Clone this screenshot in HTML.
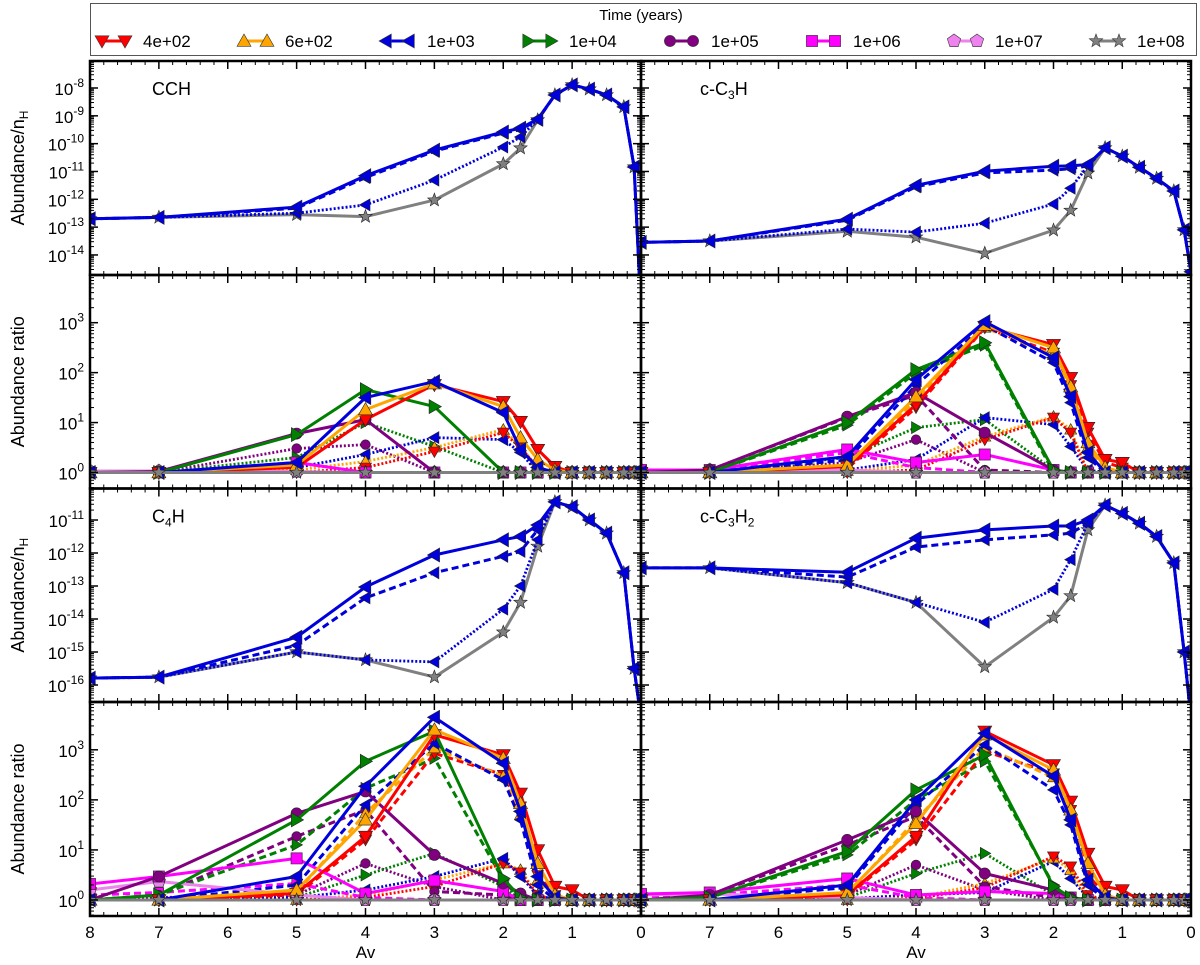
<!DOCTYPE html>
<html><head><meta charset="utf-8">
<style>
html,body{margin:0;padding:0;background:#fff;}
svg{display:block;font-family:"Liberation Sans","DejaVu Sans",sans-serif;}
</style></head>
<body>
<svg id="fig" width="1200" height="965" viewBox="0 0 1200 965" xmlns="http://www.w3.org/2000/svg"></svg>
<script>
// ---------- data ----------
const AV = [8,7,5,4,3,2,1.75,1.5,1.25,1,0.75,0.5,0.25,0.1,0];
const TIMES = ['4e+02','6e+02','1e+03','1e+04','1e+05','1e+06','1e+07','1e+08'];
const XTICKS = [8,7,6,5,4,3,2,1,0];

// CCH abundance (log10)
const A_blue_solid = [-12.7,-12.65,-12.28,-11.15,-10.23,-9.58,-9.44,-9.12,-8.25,-7.89,-8.04,-8.25,-8.68,-10.84,-16];
const A_blue_dash  = [-12.7,-12.65,-12.32,-11.22,-10.27,-9.62,-9.5,-9.15,-8.25,-7.89,-8.04,-8.25,-8.68,-10.84,-16];
const A_blue_dot   = [-12.7,-12.65,-12.5,-12.2,-11.31,-10.12,-9.76,-9.12,-8.25,-7.89,-8.04,-8.25,-8.68,-10.84,-16];
const A_grey       = [-12.7,-12.65,-12.55,-12.62,-12.03,-10.73,-10.16,-9.15,-8.25,-7.89,-8.04,-8.25,-8.68,-10.84,-16];
// c-C3H abundance
const B_blue_solid = [-13.55,-13.5,-12.71,-11.5,-10.99,-10.81,-10.8,-10.75,-10.15,-10.45,-10.85,-11.25,-11.7,-13.1,-14.6];
const B_blue_dash  = [-13.55,-13.5,-12.75,-11.55,-11.05,-10.95,-10.9,-10.8,-10.15,-10.45,-10.85,-11.25,-11.7,-13.1,-14.6];
const B_blue_dot   = [-13.55,-13.5,-13.07,-13.18,-12.86,-12.17,-11.6,-10.8,-10.15,-10.45,-10.85,-11.25,-11.7,-13.1,-14.6];
const B_grey       = [-13.55,-13.5,-13.15,-13.36,-13.94,-13.11,-12.4,-11.06,-10.15,-10.45,-10.85,-11.25,-11.7,-13.1,-14.6];
// C4H abundance
const C_blue_solid = [-15.79,-15.76,-14.55,-13.03,-12.06,-11.6,-11.5,-11.15,-10.45,-10.6,-11.0,-11.4,-12.6,-15.5,-17];
const C_blue_dash  = [-15.79,-15.76,-14.8,-13.36,-12.6,-12.1,-11.95,-11.3,-10.45,-10.6,-11.0,-11.4,-12.6,-15.5,-17];
const C_blue_dot   = [-15.79,-15.76,-15.0,-15.24,-15.3,-13.7,-13.0,-11.6,-10.45,-10.6,-11.0,-11.4,-12.6,-15.5,-17];
const C_grey       = [-15.79,-15.76,-15.0,-15.24,-15.76,-14.4,-13.5,-11.8,-10.45,-10.6,-11.0,-11.4,-12.6,-15.5,-17];
// c-C3H2 abundance
const D_blue_solid = [-12.45,-12.45,-12.58,-11.55,-11.3,-11.18,-11.18,-11.0,-10.55,-10.8,-11.1,-11.5,-12.3,-15.0,-17];
const D_blue_dash  = [-12.45,-12.45,-12.73,-11.82,-11.6,-11.45,-11.4,-11.1,-10.55,-10.8,-11.1,-11.5,-12.3,-15.0,-17];
const D_blue_dot   = [-12.45,-12.45,-12.9,-13.5,-14.1,-13.1,-12.2,-11.1,-10.55,-10.8,-11.1,-11.5,-12.3,-15.0,-17];
const D_grey       = [-12.45,-12.45,-12.9,-13.5,-15.45,-13.95,-13.3,-11.3,-10.55,-10.8,-11.1,-11.5,-12.3,-15.0,-17];

// ratios (log10)
const R_grey = [0,0,0,0,0,0,0,0,0,0,0,0,0,0,0];
// CCH ratio
const E_red     = [0,0,0.1,1.06,1.76,1.42,1.02,0.46,0.12,0,0,0,0,0,0];
const E_orange  = [0,0,0.15,1.26,1.78,1.32,0.7,0.26,0.05,0,0,0,0,0,0];
const E_blue    = [0,0,0.2,1.5,1.82,1.2,0.46,0.1,0,0,0,0,0,0,0];
const E_green   = [0,0,0.76,1.66,1.32,0,0,0,0,0,0,0,0,0,0];
const E_purple  = [0,0.02,0.78,1.06,0,0,0,0,0,0,0,0,0,0,0];
const E_magenta = [0,0,0.2,0,0,0,0,0,0,0,0,0,0,0,0];
const E_pink    = [0.03,0.03,0.02,0,0,0,0,0,0,0,0,0,0,0,0];
const E_purple_dot = [0,0,0.48,0.56,0,0,0,0,0,0,0,0,0,0,0];
const E_green_dot  = [0,0,0.3,1.0,0.52,0,0,0,0,0,0,0,0,0,0];
const E_blue_dot   = [0,0,0.1,0.36,0.7,0.66,0.4,0,0,0,0,0,0,0,0];
const E_orange_dot = [0,0,0.05,0.22,0.5,0.86,0.52,0.1,0,0,0,0,0,0,0];
const E_red_dot    = [0,0,0,0.1,0.42,0.8,0.5,0.1,0,0,0,0,0,0,0];
// c-C3H ratio
const F_red     = [0,0,0.12,1.36,2.92,2.56,1.9,0.9,0.26,0.2,0,0,0,0,0];
const F_orange  = [0,0,0.15,1.52,2.95,2.5,1.72,0.6,0.1,0,0,0,0,0,0];
const F_blue    = [0,0,0.32,1.86,3.02,2.3,1.52,0.4,0,0,0,0,0,0,0];
const F_green   = [0,0,1.0,2.06,2.6,0.05,0,0,0,0,0,0,0,0,0];
const F_purple  = [0,0.05,1.12,1.6,0.8,0.05,0,0,0,0,0,0,0,0,0];
const F_magenta = [0.05,0.05,0.46,0.2,0.36,0.05,0,0,0,0,0,0,0,0,0];
const F_pink    = [0.05,0.05,0.05,0,0,0,0,0,0,0,0,0,0,0,0];
const F_red_dash     = [0,0,0.08,1.3,2.9,2.4,1.75,0.8,0.2,0.1,0,0,0,0,0];
const F_orange_dash  = [0,0,0.12,1.45,2.9,2.35,1.6,0.5,0.05,0,0,0,0,0,0];
const F_blue_dash    = [0,0,0.25,1.75,2.95,2.2,1.4,0.3,0,0,0,0,0,0,0];
const F_green_dash   = [0,0,0.95,2.0,2.55,0,0,0,0,0,0,0,0,0,0];
const F_purple_dash  = [0,0.05,1.1,1.55,0.05,0,0,0,0,0,0,0,0,0,0];
const F_magenta_dash = [0.03,0.03,0.4,0.1,0,0,0,0,0,0,0,0,0,0,0];
const F_green_dot  = [0,0,0.3,0.9,1.06,0.05,0,0,0,0,0,0,0,0,0];
const F_purple_dot = [0,0,0.2,0.66,0,0,0,0,0,0,0,0,0,0,0];
const F_blue_dot   = [0,0,0.05,0.26,1.1,0.96,0.52,0.05,0,0,0,0,0,0,0];
const F_orange_dot = [0,0,0.03,0.15,0.72,1.12,0.86,0,0,0,0,0,0,0,0];
const F_red_dot    = [0,0,0,0.05,0.66,1.1,0.8,0,0,0,0,0,0,0,0];
// C4H ratio
const G_red     = [0,0,0.13,1.27,3.3,2.9,2.13,1.0,0.27,0.2,0,0,0,0,0];
const G_orange  = [0,0,0.2,1.6,3.4,2.83,1.93,0.73,0.1,0,0,0,0,0,0];
const G_blue    = [0,0,0.47,2.27,3.65,2.73,1.77,0.47,0.05,0,0,0,0,0,0];
const G_green   = [0,0.1,1.6,2.77,3.37,0.43,0.05,0,0,0,0,0,0,0,0];
const G_purple  = [0,0.47,1.73,2.17,0.9,0.33,0.13,0,0,0,0,0,0,0,0];
const G_magenta = [0.32,0.47,0.83,0.13,0.39,0.17,0,0,0,0,0,0,0,0,0];
const G_pink    = [0.2,0.37,0.1,0,0,0,0,0,0,0,0,0,0,0,0];
const G_red_dash     = [0,0,0.1,1.2,2.93,2.5,1.87,0.5,0.1,0,0,0,0,0,0];
const G_orange_dash  = [0,0,0.15,1.73,3.03,2.47,1.7,0.4,0.05,0,0,0,0,0,0];
const G_blue_dash    = [0,0,0.3,1.9,3.13,2.4,1.6,0.3,0,0,0,0,0,0,0];
const G_green_dash   = [0,0.1,1.1,2.23,2.83,0.4,0,0,0,0,0,0,0,0,0];
const G_purple_dash  = [0,0.1,1.27,1.8,0.17,0.1,0,0,0,0,0,0,0,0,0];
const G_magenta_dash = [0.1,0.15,0.33,0.05,0,0,0,0,0,0,0,0,0,0,0];
const G_purple_dot = [0,0.05,0.1,0.73,0.27,0,0,0,0,0,0,0,0,0,0];
const G_green_dot  = [0,0,0.05,0.5,0.93,0.27,0,0,0,0,0,0,0,0,0];
const G_orange_dot = [0,0,0,0.1,0.4,0.73,0.6,0.1,0,0,0,0,0,0,0];
const G_red_dot    = [0,0,0,0.05,0.27,0.73,0.55,0.1,0,0,0,0,0,0,0];
const G_blue_dot   = [0,0,0.05,0.2,0.47,0.83,0.47,0.1,0,0,0,0,0,0,0];
// c-C3H2 ratio
const H_red     = [0,0,0.1,1.27,3.37,2.7,1.97,0.93,0.27,0.2,0,0,0,0,0];
const H_orange  = [0,0,0.15,1.53,3.3,2.6,1.8,0.73,0.1,0,0,0,0,0,0];
const H_blue    = [0,0,0.3,2.0,3.33,2.47,1.6,0.4,0.05,0,0,0,0,0,0];
const H_green   = [0,0.05,0.97,2.2,2.9,0.27,0.05,0,0,0,0,0,0,0,0];
const H_purple  = [0,0.1,1.2,1.77,0.53,0.2,0.05,0,0,0,0,0,0,0,0];
const H_magenta = [0.12,0.15,0.43,0.1,0.17,0.13,0.05,0,0,0,0,0,0,0,0];
const H_pink    = [0.1,0.12,0.05,0,0,0,0,0,0,0,0,0,0,0,0];
const H_red_dash     = [0,0,0.08,1.2,2.97,2.53,1.8,0.5,0.1,0,0,0,0,0,0];
const H_orange_dash  = [0,0,0.12,1.6,3.05,2.45,1.7,0.4,0.05,0,0,0,0,0,0];
const H_blue_dash    = [0,0,0.25,1.9,3.1,2.2,1.5,0.3,0,0,0,0,0,0,0];
const H_green_dash   = [0,0.05,0.9,2.0,2.77,0.3,0,0,0,0,0,0,0,0,0];
const H_purple_dash  = [0,0.1,1.1,1.67,0.27,0.05,0,0,0,0,0,0,0,0,0];
const H_magenta_dash = [0.08,0.1,0.3,0.05,0,0,0,0,0,0,0,0,0,0,0];
const H_green_dot  = [0,0,0.05,0.53,0.93,0.1,0,0,0,0,0,0,0,0,0];
const H_purple_dot = [0,0,0.1,0.7,0.2,0,0,0,0,0,0,0,0,0,0];
const H_blue_dot   = [0,0,0.03,0.1,0.15,0.77,0.43,0.05,0,0,0,0,0,0,0];
const H_orange_dot = [0,0,0,0.05,0.33,0.83,0.6,0,0,0,0,0,0,0,0];
const H_red_dot    = [0,0,0,0.03,0.25,0.87,0.67,0.1,0,0,0,0,0,0,0];

// ---------- styles ----------
const STY = {
  '4e+02':{c:'#ff0000',m:'v'}, '6e+02':{c:'#ffa500',m:'^'}, '1e+03':{c:'#0000dd',m:'<'},
  '1e+04':{c:'#008000',m:'>'}, '1e+05':{c:'#800080',m:'o'}, '1e+06':{c:'#ff00ff',m:'s'},
  '1e+07':{c:'#ee82ee',m:'p'}, '1e+08':{c:'#808080',m:'*'}
};
const NS='http://www.w3.org/2000/svg';
const svg=document.getElementById('fig');
function mk(tag,attrs,parent){const e=document.createElementNS(NS,tag);for(const k in attrs)e.setAttribute(k,attrs[k]);(parent||svg).appendChild(e);return e;}

const XL=90, XM=641, XR=1191;
const ROWS=[61,275,488.5,702,916];
const RATIO={top:3.955,bot:-0.32};
const PANELS=[
 {id:'cch-abundance',col:0,row:0,type:'abund',top:-7.03,bot:-14.72,ticks:[-8,-9,-10,-11,-12,-13,-14],label:['CCH'],
  series:[['1e+08','solid',A_grey],['1e+03','dot',A_blue_dot],['1e+03','dash',A_blue_dash],['1e+03','solid',A_blue_solid]]},
 {id:'c3h-abundance',col:1,row:0,type:'abund',top:-7.03,bot:-14.72,ticks:[-8,-9,-10,-11,-12,-13,-14],label:['c-C','3','H'],
  series:[['1e+08','solid',B_grey],['1e+03','dot',B_blue_dot],['1e+03','dash',B_blue_dash],['1e+03','solid',B_blue_solid]]},
 {id:'cch-ratio',col:0,row:1,type:'ratio',top:RATIO.top,bot:RATIO.bot,ticks:[0,1,2,3],
  series:[['1e+05','dot',E_purple_dot],['1e+04','dot',E_green_dot],['1e+03','dot',E_blue_dot],['6e+02','dot',E_orange_dot],['4e+02','dot',E_red_dot],
   ['1e+07','solid',E_pink],['1e+06','solid',E_magenta],['1e+05','solid',E_purple],['1e+04','solid',E_green],['4e+02','solid',E_red],['6e+02','solid',E_orange],['1e+03','solid',E_blue],['1e+08','solid',R_grey]]},
 {id:'c3h-ratio',col:1,row:1,type:'ratio',top:RATIO.top,bot:RATIO.bot,ticks:[0,1,2,3],
  series:[['1e+04','dot',F_green_dot],['1e+05','dot',F_purple_dot],['1e+03','dot',F_blue_dot],['6e+02','dot',F_orange_dot],['4e+02','dot',F_red_dot],
   ['1e+06','dash',F_magenta_dash],['1e+05','dash',F_purple_dash],['1e+04','dash',F_green_dash],['4e+02','dash',F_red_dash],['6e+02','dash',F_orange_dash],['1e+03','dash',F_blue_dash],
   ['1e+07','solid',F_pink],['1e+06','solid',F_magenta],['1e+05','solid',F_purple],['1e+04','solid',F_green],['4e+02','solid',F_red],['6e+02','solid',F_orange],['1e+03','solid',F_blue],['1e+08','solid',R_grey]]},
 {id:'c4h-abundance',col:0,row:2,type:'abund',top:-10.045,bot:-16.515,ticks:[-11,-12,-13,-14,-15,-16],label:['C','4','H'],
  series:[['1e+08','solid',C_grey],['1e+03','dot',C_blue_dot],['1e+03','dash',C_blue_dash],['1e+03','solid',C_blue_solid]]},
 {id:'c3h2-abundance',col:1,row:2,type:'abund',top:-10.045,bot:-16.515,ticks:[-11,-12,-13,-14,-15,-16],label:['c-C','3','H','2'],
  series:[['1e+08','solid',D_grey],['1e+03','dot',D_blue_dot],['1e+03','dash',D_blue_dash],['1e+03','solid',D_blue_solid]]},
 {id:'c4h-ratio',col:0,row:3,type:'ratio',top:RATIO.top,bot:RATIO.bot,ticks:[0,1,2,3],
  series:[['1e+05','dot',G_purple_dot],['1e+04','dot',G_green_dot],['6e+02','dot',G_orange_dot],['4e+02','dot',G_red_dot],['1e+03','dot',G_blue_dot],
   ['1e+06','dash',G_magenta_dash],['1e+05','dash',G_purple_dash],['1e+04','dash',G_green_dash],['4e+02','dash',G_red_dash],['6e+02','dash',G_orange_dash],['1e+03','dash',G_blue_dash],
   ['1e+07','solid',G_pink],['1e+06','solid',G_magenta],['1e+05','solid',G_purple],['1e+04','solid',G_green],['4e+02','solid',G_red],['6e+02','solid',G_orange],['1e+03','solid',G_blue],['1e+08','solid',R_grey]]},
 {id:'c3h2-ratio',col:1,row:3,type:'ratio',top:RATIO.top,bot:RATIO.bot,ticks:[0,1,2,3],
  series:[['1e+04','dot',H_green_dot],['1e+05','dot',H_purple_dot],['1e+03','dot',H_blue_dot],['6e+02','dot',H_orange_dot],['4e+02','dot',H_red_dot],
   ['1e+06','dash',H_magenta_dash],['1e+05','dash',H_purple_dash],['1e+04','dash',H_green_dash],['4e+02','dash',H_red_dash],['6e+02','dash',H_orange_dash],['1e+03','dash',H_blue_dash],
   ['1e+07','solid',H_pink],['1e+06','solid',H_magenta],['1e+05','solid',H_purple],['1e+04','solid',H_green],['4e+02','solid',H_red],['6e+02','solid',H_orange],['1e+03','solid',H_blue],['1e+08','solid',R_grey]]}
];

function markerD(t,cx,cy,s){
  const f=v=>v.toFixed(1);
  if(t==='v')return `M${f(cx-s)},${f(cy-s*0.75)}L${f(cx+s)},${f(cy-s*0.75)}L${f(cx)},${f(cy+s)}Z`;
  if(t==='^')return `M${f(cx-s)},${f(cy+s*0.75)}L${f(cx+s)},${f(cy+s*0.75)}L${f(cx)},${f(cy-s)}Z`;
  if(t==='<')return `M${f(cx-s)},${f(cy)}L${f(cx+s*0.75)},${f(cy-s)}L${f(cx+s*0.75)},${f(cy+s)}Z`;
  if(t==='>')return `M${f(cx+s)},${f(cy)}L${f(cx-s*0.75)},${f(cy-s)}L${f(cx-s*0.75)},${f(cy+s)}Z`;
  if(t==='s')return `M${f(cx-s*0.8)},${f(cy-s*0.8)}h${f(s*1.6)}v${f(s*1.6)}h${f(-s*1.6)}Z`;
  if(t==='p'||t==='*'){
    let d='';const n=5;
    for(let i=0;i<(t==='p'?n:2*n);i++){
      const r=t==='p'?s:(i%2?s*0.42:s);
      const a=-Math.PI/2+i*Math.PI*2/(t==='p'?n:2*n);
      d+=(i?'L':'M')+f(cx+r*Math.cos(a))+','+f(cy+r*Math.sin(a));
    }
    return d+'Z';
  }
  return `M${f(cx-s*0.8)},${f(cy)}a${f(s*0.8)},${f(s*0.8)} 0 1,0 ${f(s*1.6)},0a${f(s*0.8)},${f(s*0.8)} 0 1,0 ${f(-s*1.6)},0Z`;
}
function supLabel(g,x,y,exp,anchor){
  const t=mk('text',{x:x,y:y,'font-size':17,'text-anchor':anchor||'end',fill:'#000'},g);
  
  
  const a=mk('tspan',{},t);a.textContent='10';
  const b=mk('tspan',{dy:-8,'font-size':12},t);b.textContent=String(exp);
  return t;
}

// ---------- legend ----------
const leg=mk('g',{});


const lbox=mk('rect',{x:90.5,y:3.5,width:1106,height:52,fill:'#fff',stroke:'#555','stroke-width':1},leg);


const ltitle=mk('text',{x:641,y:20,'font-size':15,'text-anchor':'middle',fill:'#000'},leg);


ltitle.textContent='Time (years)';
TIMES.forEach((t,i)=>{
  const tx=143+i*142, st=STY[t];
  const eg=mk('g',{},leg);
  
  
  mk('line',{x1:tx-41,y1:41,x2:tx-18,y2:41,stroke:st.c,'stroke-width':3},eg);
  [tx-41,tx-18].forEach(mx=>mk('path',{d:markerD(st.m,mx,41,7),fill:st.c,stroke:'#333','stroke-width':0.6},eg));
  const tt=mk('text',{x:tx,y:47,'font-size':17,fill:'#000'},eg);
  
  
  tt.textContent=t;
});

// ---------- panels ----------
const defs=mk('defs',{});
PANELS.forEach(p=>{
  const x0=p.col?XM:XL, x1=p.col?XR:XM, y0=ROWS[p.row], y1=ROWS[p.row+1];
  const xs=v=>x0+(8-v)/8*(x1-x0);
  const ys=v=>y0+(p.top-v)/(p.top-p.bot)*(y1-y0);
  const g=mk('g',{});
  
  
  const cp=mk('clipPath',{id:'clip-'+p.id},defs);
  mk('rect',{x:x0,y:y0,width:x1-x0,height:y1-y0},cp);
  const plot=mk('g',{'clip-path':'url(#clip-'+p.id+')'},g);
  
  
  p.series.forEach(([t,style,vals])=>{
    const st=STY[t];
    const sg=mk('g',{},plot);
    
    
    const pts=vals.map((v,i)=>[xs(AV[i]),ys(v)]);
    const sw=style==='dot'?2.8:3;
    const da=style==='dash'?'7,4':(style==='dot'?'2,2':'none');
    const line=mk('polyline',{points:pts.map(q=>q[0].toFixed(1)+','+q[1].toFixed(1)).join(' '),fill:'none',stroke:st.c,'stroke-width':sw,'stroke-dasharray':da,'stroke-linejoin':'round'},sg);
    
    
    const ms=style==='solid'?7:6;
    pts.forEach(q=>{
      const m=mk('path',{d:markerD(st.m,q[0],q[1],ms),fill:st.c,stroke:'#222','stroke-width':0.6},sg);
      
      
    });
  });
  const tg=mk('g',{stroke:'#000','stroke-width':1},g);
  
  
  for(let k=0;k<=40;k++){
    const x=x0+k/40*(x1-x0), L=(k%5===0)?8:4;
    mk('line',{x1:x,y1:y0,x2:x,y2:y0+L,'stroke-width':k%5?1:1.5},tg);
    mk('line',{x1:x,y1:y1,x2:x,y2:y1-L,'stroke-width':k%5?1:1.5},tg);
  }
  const dlo=Math.floor(p.bot), dhi=Math.ceil(p.top);
  for(let d=dlo;d<dhi;d++){
    for(let m=1;m<10;m++){
      const v=d+Math.log10(m);
      if(v<p.bot||v>p.top)continue;
      const y=ys(v), L=m===1?8:4;
      mk('line',{x1:x0,y1:y,x2:x0+L,y2:y,'stroke-width':m===1?1.5:1},tg);
      mk('line',{x1:x1,y1:y,x2:x1-L,y2:y,'stroke-width':m===1?1.5:1},tg);
    }
  }
  const fr=mk('rect',{x:x0,y:y0,width:x1-x0,height:y1-y0,fill:'none',stroke:'#000','stroke-width':2.5},g);
  
  
  if(p.col===0){
    p.ticks.forEach(v=>supLabel(g,84,ys(v)+7,v));
    const yt=mk('text',{transform:`translate(24,${(y0+y1)/2}) rotate(-90)`,'font-size':18,'text-anchor':'middle',fill:'#000'},g);
    
    
    if(p.type==='abund'){
      const a=mk('tspan',{},yt);a.textContent='Abundance/n';
      const b=mk('tspan',{dy:4,'font-size':12},yt);b.textContent='H';
    } else yt.textContent='Abundance ratio';
  }
  if(p.label){
    const lt=mk('text',{x:p.col?700:152,y:y0+34,'font-size':18,fill:'#000'},g);
    
    
    p.label.forEach((s,i)=>{
      const ts=mk('tspan',i%2?{dy:4,'font-size':12}:(i>0?{dy:-4}:{}),lt);
      ts.textContent=s;
    });
  }
  if(p.row===3){
    XTICKS.forEach(v=>{
      if(p.col===1&&v===8)return;
      const xt=mk('text',{x:xs(v),y:938,'font-size':17,'text-anchor':'middle',fill:'#000'},g);
      
      
      xt.textContent=String(v);
    });
    const xa=mk('text',{x:(x0+x1)/2,y:958,'font-size':17,'text-anchor':'middle',fill:'#000'},g);
    
    
    xa.textContent='Av';
  }
});
</script>
</body></html>
